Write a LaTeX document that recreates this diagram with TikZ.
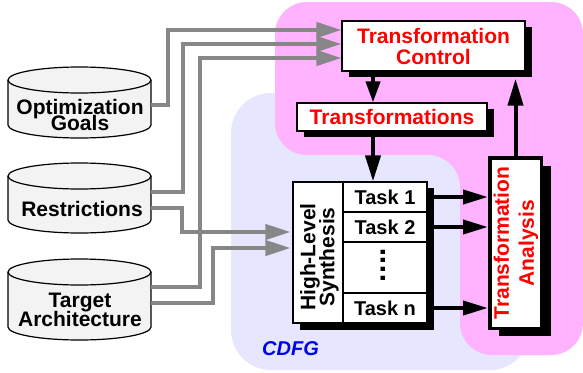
\documentclass[tikz,border=0pt]{standalone}
\usepackage{fontspec}
\setmainfont{Liberation Sans}
\usetikzlibrary{arrows.meta,shadows}

\definecolor{pinkbg}{RGB}{255,179,255}
\definecolor{lavbg}{RGB}{230,230,255}
\definecolor{dbfill}{RGB}{243,243,243}
\definecolor{wire}{RGB}{135,135,135}
\definecolor{ttred}{RGB}{255,0,0}
\definecolor{ttblue}{RGB}{0,0,240}

% database drum drawn around an (invisible) box node
\newcommand\dbdrum[1]{%
  \fill[dbfill] ([yshift=-13pt]#1.north west) -- ([yshift=13pt]#1.south west)
     arc[start angle=180,end angle=360,x radius=71.5pt,y radius=13pt]
     -- ([yshift=-13pt]#1.north east) -- cycle;
  \draw[drumline] ([yshift=-13pt]#1.north west) -- ([yshift=13pt]#1.south west)
     arc[start angle=180,end angle=360,x radius=71.5pt,y radius=13pt]
     -- ([yshift=-13pt]#1.north east);
  \draw[drumline,fill=dbfill] ([yshift=-13pt]#1.north) ellipse[x radius=71.5pt,y radius=13pt];
}

\begin{document}
\setlength{\lineskiplimit}{-50pt}
\begin{tikzpicture}[x=1pt,y=-1pt,
  txt/.style={font=\bfseries\fontsize{21}{#1}\selectfont, align=center, inner sep=0pt},
  txt/.default=21,
  drumline/.style={line width=1.2pt},
  dbbox/.style={minimum width=143pt, inner sep=0pt, outer sep=0pt},
  box/.style={draw, line width=1.2pt, fill=white, inner sep=0pt,
              drop shadow={shadow xshift=6.5pt, shadow yshift=-6pt, fill=black, opacity=1}},
  cell/.style={draw, line width=1.2pt, inner sep=0pt, minimum width=84pt},
  wirearrow/.style={draw=wire, line width=4pt, -{Triangle[length=25pt,width=15pt]}},
  blackarrow/.style={line width=4pt, -{Triangle[length=25pt,width=14pt]}}
]
\useasboundingbox (0,0) rectangle (583,372);

% background regions
\fill[lavbg, rounded corners=40pt] (231,93) rectangle (530,370);
\fill[pinkbg, rounded corners=32pt]
  (420,2) -- (583,2) -- (583,355) -- (460,355) -- (460,155) -- (275,155) -- (275,2) -- cycle;

% databases
\node[dbbox, minimum height=71pt] (goals) at (79.5,102.5) {};
\node[dbbox, minimum height=70pt] (restr) at (79.5,198) {};
\node[dbbox, minimum height=81pt] (target) at (79.5,299.5) {};
\dbdrum{goals}
\dbdrum{restr}
\dbdrum{target}
\node[txt=16] (goalslabel) at (80,115) {Optimization\\Goals};
\node[txt] (restrlabel) at (82,208.5) {Restrictions};
\node[txt=19] (targetlabel) at (80,310) {Target\\Architecture};

% control and transformation boxes
\node[box, txt=21, text=ttred, minimum width=183pt, minimum height=50pt]
  (tc) at (433.5,46) {Transformation\\Control};
\node[box, txt, text=ttred, minimum width=190pt, minimum height=28pt]
  (tf) at (392,117) {Transformations};

% high-level synthesis block
\node[box, minimum width=134pt, minimum height=141pt,
      drop shadow={shadow xshift=7pt, shadow yshift=-7pt, fill=black, opacity=1}]
  (block) at (360,252.5) {};
\node[draw, line width=1.2pt, inner sep=0pt, minimum width=50pt, minimum height=141pt]
  (hls) at (318,252.5) {};
\node[txt=19, rotate=90] (hlslabel) at (319.5,257) {High-Level\\Synthesis};
\node[cell, txt, font=\bfseries\fontsize{20}{20}\selectfont, minimum height=30pt] (task1) at (385,197) {Task 1};
\node[cell, txt, font=\bfseries\fontsize{20}{20}\selectfont, minimum height=30pt] (task2) at (385,227) {Task 2};
\node[cell, minimum height=51pt] (gap) at (385,267.5) {};
\node[font=\bfseries\fontsize{30}{30}\selectfont, inner sep=0pt, rotate=90, anchor=base]
  (vdots) at (385.5,265) {.\kern0.4pt.\kern0.4pt.\kern0.4pt.};
\node[cell, txt, font=\bfseries\fontsize{20}{20}\selectfont, minimum height=30pt] (taskn) at (385,308) {Task n};

% transformation analysis box
\node[draw, line width=3.5pt, fill=white, inner sep=0pt,
      minimum width=51.5pt, minimum height=170.5pt,
      drop shadow={shadow xshift=9.5pt, shadow yshift=-8pt, fill=black, opacity=1}]
  (ta) at (515.5,243) {};
\node[txt=25, text=ttred, rotate=90] (talabel) at (516,243) {Transformation\\Analysis};

\node[font=\bfseries\itshape\fontsize{20}{20}\selectfont, text=ttblue, inner sep=0pt]
  (cdfg) at (290.5,349) {CDFG};

% inputs from the databases
\draw[wirearrow] ([yshift=-2.5pt]goals.east) -- ++(17,0) |- ([yshift=16pt]tc.west);
\draw[wirearrow] ([yshift=6pt]restr.east) -- ++(32,0) |- ([yshift=2pt]tc.west);
\draw[wirearrow] ([yshift=12.5pt]target.east) -- ++(49,0) |- ([yshift=-12pt]tc.west);
\draw[wirearrow, shorten >=2pt] ([yshift=-10pt]restr.east) -- ++(31,0) |- ([yshift=20.5pt]hls.west);
\draw[wirearrow, shorten >=2pt] ([yshift=-3.5pt]target.east) -- ++(62,0) |- ([yshift=4.5pt]hls.west);

% control flow
\coordinate (colA) at (373,0);
\draw[line width=4pt, -{Triangle[length=21pt,width=14pt]}] (tc.south -| colA) -- (tf.north -| colA);
\draw[line width=4pt, -{Triangle[length=26pt,width=15pt]}] (tf.south -| colA) -- (block.north -| colA);
\draw[blackarrow] (task1.east) -- (ta.west |- task1.east);
\draw[blackarrow] (task2.east) -- (ta.west |- task2.east);
\draw[blackarrow] (taskn.east) -- (ta.west |- taskn.east);
\draw[line width=4pt, -{Triangle[length=27pt,width=15pt]}, shorten >=7pt] (ta.north) -- (ta.north |- tc.south);
\end{tikzpicture}
\end{document}
